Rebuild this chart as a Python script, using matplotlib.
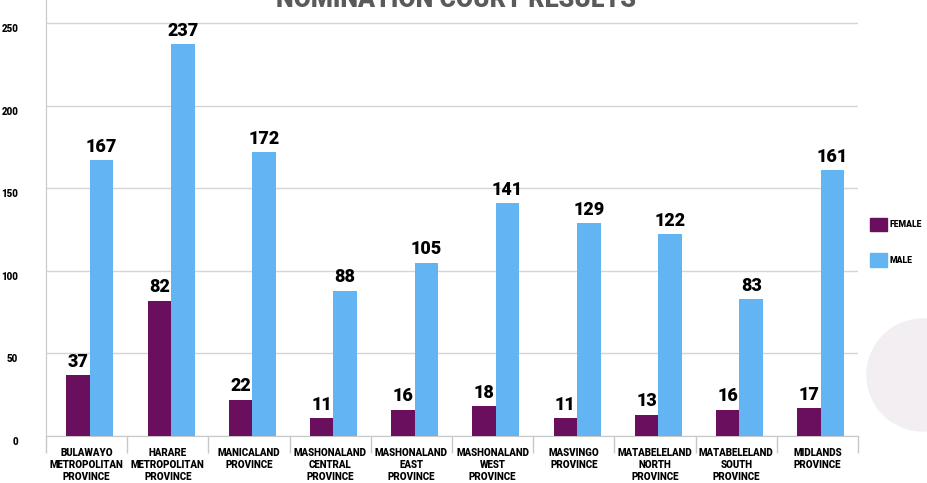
import matplotlib
matplotlib.use("Agg")
import matplotlib.pyplot as plt
import matplotlib.transforms as mtransforms
import numpy as np
from matplotlib.patches import Ellipse, Patch

categories = ["BULAWAYO\nMETROPOLITAN\nPROVINCE", "HARARE\nMETROPOLITAN\nPROVINCE",
              "MANICALAND\nPROVINCE", "MASHONALAND\nCENTRAL\nPROVINCE",
              "MASHONALAND\nEAST\nPROVINCE", "MASHONALAND\nWEST\nPROVINCE",
              "MASVINGO\nPROVINCE", "MATABELELAND\nNORTH\nPROVINCE",
              "MATABELELAND\nSOUTH\nPROVINCE", "MIDLANDS\nPROVINCE"]
female = [37, 82, 22, 11, 16, 18, 11, 13, 16, 17]
male = [167, 237, 172, 88, 105, 141, 129, 122, 83, 161]
series_names = ["FEMALE", "MALE"]
title = "NOMINATION COURT RESULTS"

c_f = "#6A0E5E"
c_m = "#63B4F3"
FONT = "Roboto"

fig = plt.figure(figsize=(9.28, 4.83), dpi=100)
fig.patch.set_facecolor("white")

# decorative circle
fig.add_artist(Ellipse((923/928, 1-375/483), 112/928, 112/483, color="#F2EEF2", zorder=0))

ax = fig.add_axes([46/928, 1-436/483, (858-46)/928, 436/483])
ax.set_facecolor("none")
x = np.arange(len(categories))
w = 0.29
off = 0.04
b1 = ax.bar(x + off - w/2, female, w, color=c_f, zorder=3)
b2 = ax.bar(x + off + w/2, male, w, color=c_m, zorder=3)
for bars, vals in ((b1, female), (b2, male)):
    for r, v in zip(bars, vals):
        ax.annotate(str(v), (r.get_x() + r.get_width()/2, v), xytext=(0, 3),
                    textcoords="offset points", ha="center", va="bottom",
                    fontsize=13, fontweight="heavy", family=FONT, color="black")

ax.set_xlim(-0.5, len(categories) - 0.5)
ax.set_ylim(0, 436/1.652)
ax.set_yticks([0, 50, 100, 150, 200, 250])
ax.grid(axis="y", color="#D5D5D5", linewidth=1, zorder=0)
ax.set_xticks(x)
ax.set_xticklabels(categories, fontsize=7.0, fontweight="heavy", family=FONT, linespacing=1.25)
ax.set_xticks(np.arange(-0.5, len(categories)), minor=True)
ax.tick_params(axis="x", which="major", length=0, pad=9)
ax.tick_params(axis="x", which="minor", length=12, color="#C8C8C8", width=1)
ax.tick_params(axis="y", length=0, pad=20)
shift = mtransforms.ScaledTranslation(0, -5/100, fig.dpi_scale_trans)
for lab in ax.get_yticklabels():
    lab.set_fontsize(7)
    lab.set_fontweight("heavy")
    lab.set_family(FONT)
    lab.set_transform(lab.get_transform() + shift)
for s in ["top", "right"]:
    ax.spines[s].set_visible(False)
ax.spines["left"].set_color("#C8C8C8")
ax.spines["bottom"].set_color("#C8C8C8")

fig.text(456/928, 1.0, title, ha="center", va="center", fontsize=18,
         fontweight="heavy", family=FONT, color="#5A5A5A")

handles = [Patch(color=c_f), Patch(color=c_m)]
fig.legend(handles, series_names, loc="upper left", bbox_to_anchor=(862/928, 1-210/483),
           frameon=False, handlelength=2.0, handleheight=2.0, labelspacing=2.6,
           handletextpad=0.35, prop={"family": FONT, "weight": "heavy", "size": 6.2})

fig.savefig("out.png", dpi=100)
